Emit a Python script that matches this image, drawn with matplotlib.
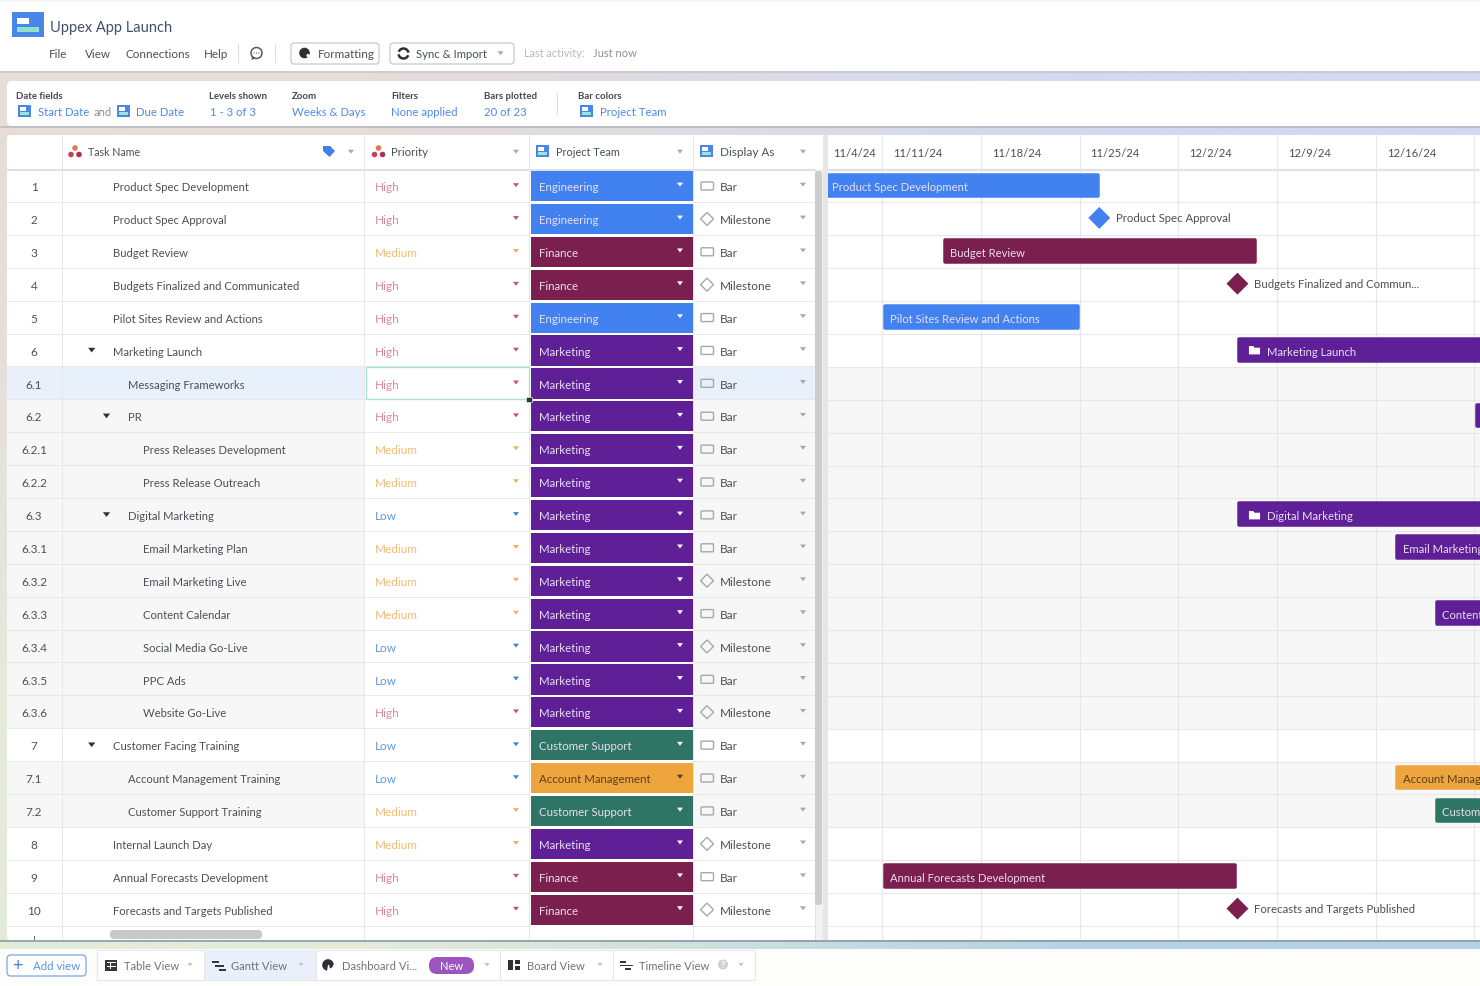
import datetime as dt
import numpy as np
import matplotlib
matplotlib.use("Agg")
import matplotlib.pyplot as plt
import matplotlib.dates as mdates
from matplotlib.patches import FancyBboxPatch, Rectangle, Circle, Arc, Polygon, Wedge
from matplotlib.path import Path
from matplotlib.transforms import ScaledTranslation
from matplotlib.colors import to_rgb

plt.rcParams["font.family"] = ["Lato", "Open Sans", "DejaVu Sans"]

# ---------- data ----------
row_ids = ["1", "2", "3", "4", "5", "6", "6.1", "6.2", "6.2.1", "6.2.2", "6.3", "6.3.1", "6.3.2",
           "6.3.3", "6.3.4", "6.3.5", "6.3.6", "7", "7.1", "7.2", "8", "9", "10"]
task_names = ["Product Spec Development", "Product Spec Approval", "Budget Review",
              "Budgets Finalized and Communicated", "Pilot Sites Review and Actions", "Marketing Launch",
              "Messaging Frameworks", "PR", "Press Releases Development", "Press Release Outreach",
              "Digital Marketing", "Email Marketing Plan", "Email Marketing Live", "Content Calendar",
              "Social Media Go-Live", "PPC Ads", "Website Go-Live", "Customer Facing Training",
              "Account Management Training", "Customer Support Training", "Internal Launch Day",
              "Annual Forecasts Development", "Forecasts and Targets Published"]
priorities = ["High", "High", "Medium", "High", "High", "High", "High", "High", "Medium", "Medium", "Low",
              "Medium", "Medium", "Medium", "Low", "Low", "High", "Low", "Low", "Medium", "Medium", "High", "High"]
teams = ["Engineering", "Engineering", "Finance", "Finance", "Engineering", "Marketing", "Marketing",
         "Marketing", "Marketing", "Marketing", "Marketing", "Marketing", "Marketing", "Marketing",
         "Marketing", "Marketing", "Marketing", "Customer Support", "Account Management", "Customer Support",
         "Marketing", "Finance", "Finance"]
display_as = ["Bar", "Milestone", "Bar", "Milestone", "Bar", "Bar", "Bar", "Bar", "Bar", "Bar", "Bar", "Bar",
              "Milestone", "Bar", "Milestone", "Bar", "Milestone", "Bar", "Bar", "Bar", "Milestone", "Bar",
              "Milestone"]
parents = ["6", "6.2", "6.3", "7"]

week_starts = ["2024-11-04", "2024-11-11", "2024-11-18", "2024-11-25", "2024-12-02", "2024-12-09",
               "2024-12-16", "2024-12-23"]
week_labels = ["11/4/24", "11/11/24", "11/18/24", "11/25/24", "12/2/24", "12/9/24", "12/16/24", ""]

bar_rows = ["1", "3", "5", "6", "6.2", "6.3", "6.3.1", "6.3.3", "7.1", "7.2", "9"]
bar_starts = [2.0, 11.3, 7.05, 32.2, 49.05, 32.2, 43.4, 46.2, 43.4, 46.2, 7.05]
bar_ends = [22.4, 33.6, 21.0, 60.0, 60.0, 60.0, 60.0, 60.0, 60.0, 60.0, 32.15]

milestone_rows = ["2", "4", "10"]
milestone_days = [22.4, 32.2, 32.2]
milestone_labels = ["Product Spec Approval", "Budgets Finalized and Commun...", "Forecasts and Targets Published"]

team_colors = {"Engineering": "#4281f0", "Finance": "#7b1f4e", "Marketing": "#5f1f97",
               "Customer Support": "#2f7566", "Account Management": "#eea53d"}
priority_text = {"High": "#dc8a97", "Medium": "#efbd74", "Low": "#5f97e0"}
priority_arrow = {"High": "#cf4c68", "Medium": "#eeb25c", "Low": "#3f7fe0"}

TXT = "#4b4f57"
BLUE = "#4f8ae6"
FS = 8.5
FS_TASK = 8.15
ROW0, ROWH = 187.0, 32.89
TY = 0.7

fig = plt.figure(figsize=(14.8, 9.87), dpi=100)
ax = fig.add_axes([0, 0, 1, 1], zorder=1)
ax.set_xlim(0, 1480)
ax.set_ylim(987, 0)
ax.axis("off")


def ry(i):
    return ROW0 + ROWH * i


def rect(x0, y0, x1, y1, fc, z=1, ec="none", lw=0, a=None):
    ax.add_patch(Rectangle((x0, y0), x1 - x0, y1 - y0, fc=fc, ec=ec, lw=lw, zorder=z, alpha=a))


def rrect(x0, y0, x1, y1, fc, z=2, ec="none", lw=0, r=3):
    ax.add_patch(FancyBboxPatch((x0 + r, y0 + r), x1 - x0 - 2 * r, y1 - y0 - 2 * r,
                                boxstyle=f"round,pad={r},rounding_size={r}", fc=fc, ec=ec, lw=lw, zorder=z))


def txt(x, y, s, c=TXT, fs=FS, ha="left", w="normal", z=5):
    ax.text(x, y + TY, s, color=c, fontsize=fs, ha=ha, va="center", fontweight=w, zorder=z)


def caret(x, y, c="#a8a8a8", s=3.0):
    ax.add_patch(Polygon([(x - s, y - s * 0.6), (x + s, y - s * 0.6), (x, y + s * 0.7)], fc=c, ec="none", zorder=5))


def field_icon(x, y, s=13):
    rect(x, y, x + s, y + s * 0.95, "#4a86e8", z=4)
    rect(x + s * .17, y + s * .17, x + s * .62, y + s * .45, "white", z=5)
    rect(x + s * .17, y + s * .55, x + s * .83, y + s * .78, "#9fe3d2", z=5)


def dots_icon(x, y):
    ax.add_patch(Circle((x, y - 3.5), 2.8, fc="#e07a50", ec="none", zorder=5))
    ax.add_patch(Circle((x - 4, y + 3), 2.8, fc="#c8405f", ec="none", zorder=5))
    ax.add_patch(Circle((x + 4, y + 3), 2.8, fc="#b02e50", ec="none", zorder=5))


# ---------- background ----------
corner = np.array([[to_rgb("#e6ddd9"), to_rgb("#d2d9f0")], [to_rgb("#e4ebd9"), to_rgb("#b4d1e6")]])
ax.imshow(corner, extent=(0, 1480, 950, 72), aspect="auto", interpolation="bilinear", zorder=0)
ax.set_xlim(0, 1480)
ax.set_ylim(987, 0)
rect(0, 0, 1480, 72, "white")
rect(0, 0, 1480, 3, "#f1f4f1", z=1.1)
rect(0, 950, 1480, 987, "#fdfdfb")
rect(0, 72, 1480, 74, "#c2c2c8", z=1.1, a=.6)
rect(0, 127, 1480, 129, "#a9abb5", z=1.1, a=.6)
rect(0, 941, 1480, 943, "#8a98a0", z=1.1, a=.8)

# ---------- title bar ----------
rect(12, 13, 44, 38, "#4a86e8", z=3)
rect(17, 19, 29, 25, "white", z=4)
rect(17, 28, 39, 33, "#8fe0cc", z=4)
txt(50, 27, "Uppex App Launch", fs=10.5, c="#44506a")
for x, s in zip([49, 85, 125.5, 204], ["File", "View", "Connections", "Help"]):
    txt(x, 54, s, fs=8.4)
rect(238, 45, 238.8, 64, "#dddddd", z=2)
ax.add_patch(Circle((256.5, 54), 5.5, fc="white", ec="#55585d", lw=1.1, zorder=4))
ax.add_patch(Polygon([(252, 57), (256, 59), (251.5, 61)], fc="#55585d", zorder=4))
for dx in (-2.4, 0, 2.4):
    ax.add_patch(Circle((256.5 + dx, 54), .6, fc="#55585d", zorder=5))
rect(275, 45, 275.8, 64, "#dddddd", z=2)
rrect(291, 44, 379, 65, "white", ec="#c0c2c5", lw=.8)
ax.add_patch(Circle((304.5, 54), 5.3, fc="#2c2f36", zorder=4))
ax.add_patch(Circle((308, 56.5), 1.6, fc="white", zorder=5))
txt(317.5, 54, "Formatting", fs=8.4)
rrect(390, 44, 514, 65, "white", ec="#c0c2c5", lw=.8)
ax.add_patch(Arc((403.5, 54.5), 10, 10, theta1=20, theta2=170, ec="#2c2f36", lw=1.8, zorder=4))
ax.add_patch(Arc((403.5, 54.5), 10, 10, theta1=200, theta2=350, ec="#2c2f36", lw=1.8, zorder=4))
txt(416.5, 54, "Sync & Import", fs=8.2)
caret(500.5, 54)
txt(524.5, 53, "Last activity:", fs=7.8, c="#b6b8bb")
txt(593, 53, "Just now", fs=8.0, c="#8e9094")

# ---------- toolbar ----------
rrect(7, 82, 1500, 127, "white", z=2, r=5)
labels = [(16, "Date fields"), (209, "Levels shown"), (292, "Zoom"), (391, "Filters"), (484, "Bars plotted"),
          (578, "Bar colors")]
for x, s in labels:
    txt(x, 96, s, fs=6.9, w="bold", c="#45484e")
values = [(37.5, "Start Date"), (136, "Due Date"), (209.5, "1 - 3 of 3"), (292.5, "Weeks & Days"),
          (391, "None applied"), (484, "20 of 23"), (599.5, "Project Team")]
for x, s in values:
    txt(x, 111.5, s, c=BLUE, fs=8.2)
txt(93.5, 111.5, "and", c="#8b8f94", fs=8.0)
for x in (18, 117, 580):
    field_icon(x, 106)
rect(557, 94, 557.8, 116, "#dddddd", z=3)

# ---------- table ----------
rrect(7, 136, 1500, 941, "white", z=2, r=4)
rect(7, 170, 815, 172, "#dfe1e5", z=4)
for x in (62, 364, 529, 693):
    rect(x, 136, x + .9, 941, "#e6e7e9", z=3.5)
dots_icon(75, 152.5)
txt(88.5, 152, "Task Name", fs=7.7)
ax.add_patch(Polygon([(323, 147), (330, 147), (335, 152), (329.5, 158), (323, 152)], fc="#3f7fe8", zorder=5))
caret(351, 152.5)
dots_icon(378.5, 152.5)
txt(391.5, 152, "Priority", fs=8.2)
caret(516, 152.5)
field_icon(536, 146)
txt(555.5, 152, "Project Team", fs=7.8)
caret(680, 152.5)
field_icon(700, 146)
txt(720, 152, "Display As", fs=8.5)
caret(803, 152.5)

for i, rid in enumerate(row_ids):
    y = ry(i)
    top, bot = y - ROWH / 2, y + ROWH / 2
    child = "." in rid
    shade = "#e8f0fb" if rid == "6.1" else ("#f7f7f7" if child else "white")
    rect(7, top, 364, bot, shade, z=3)
    rect(693, top, 815, bot, shade, z=3)
    for x0, x1 in ((7, 529), (693, 815)):
        rect(x0, bot - .5, x1, bot + .5, "#e7e8ea", z=3.6)
    level = rid.count(".")
    xt = 113.2 + 14.8 * level
    txt(34, y, rid, ha="center", fs=8.5)
    txt(xt, y, task_names[i], fs=FS_TASK)
    if rid in parents:
        caret(xt - 21.5, y - .5, c="#2f3136", s=3.6)
    p = priorities[i]
    txt(375, y, p, c=priority_text[p], fs=8.5)
    caret(516, y - 1, c=priority_arrow[p])
    t = teams[i]
    rect(530.5, top + 1.4, 693, bot - 1.2, team_colors[t], z=4)
    txt(539, y, t, c="#5b4120" if t == "Account Management" else "#e7def0", fs=8.3)
    caret(680, y - 1.5, c="#4d3a1c" if t == "Account Management" else "white")
    d = display_as[i]
    if d == "Bar":
        rrect(701, y - 4, 713.5, y + 4, "none", z=5, ec="#a6a8ab", lw=1.0, r=1)
    else:
        ax.add_patch(Polygon([(707, y - 6.5), (713.5, y), (707, y + 6.5), (700.5, y)], fc="none", ec="#a6a8ab",
                             lw=1.0, zorder=5))
    txt(720, y, d, fs=8.5)
    caret(803, y - 1.5)

# selected cell
sel = ry(row_ids.index("6.1"))
rect(365.5, sel - 16, 528.5, sel + 16, "none", z=6, ec="#a9e3d2", lw=1.0)
rect(526, sel + 13.5, 531.5, sel + 19, "#2c3440", z=7, ec="white", lw=.4)

# scrollbars
rect(815, 170, 828, 941, "#f2f2f2", z=3.4)
rect(815, 170, 815.6, 941, "#e2e2e2", z=3.5)
rect(823, 136, 828, 941, "#e6e6e6", z=3.5)
rrect(815, 172, 822, 906, "#cdcdcd", z=4, r=3)
rrect(110, 931, 262, 940, "#c9c9c9", z=6, r=4)
rect(33.5, 936.5, 34.5, 941, "#6a6d72", z=6)

# ---------- gantt ----------
g_left, g_right, g_top, g_bot = 828, 1480, 136, 941
gx = fig.add_axes([g_left / 1480, 1 - g_bot / 987, (g_right - g_left) / 1480, (g_bot - g_top) / 987], zorder=2)
week_nums = mdates.date2num([dt.date.fromisoformat(d) for d in week_starts])
day0 = week_nums[0]
px_per_day = 14.1
gx.set_xlim(day0 + 3.16, day0 + 3.16 + (g_right - g_left) / px_per_day)
gx.set_ylim((g_bot - ROW0) / ROWH, (g_top - ROW0) / ROWH)
for s in gx.spines.values():
    s.set_visible(False)
gx.tick_params(left=False, bottom=False, labelleft=False, labelbottom=False)
gx.set_facecolor("white")

row_index = {r: i for i, r in enumerate(row_ids)}
for i, rid in enumerate(row_ids):
    if "." in rid:
        gx.axhspan(i - .5, i + .5, fc="#f7f7f7", ec="none", zorder=0)
    gx.axhline(i + .5, color="#e7e8ea", lw=.8, zorder=1)
gx.axhline(-.5, color="#dfe1e5", lw=1.6, zorder=1)
for w in week_nums:
    gx.axvline(w, color="#e6e7e9", lw=.8, zorder=1)

stroke_px = 3.5
inset_days = stroke_px / 2 / px_per_day
bar_h = (25 - stroke_px) / ROWH
bar_y = [row_index[r] - .02 for r in bar_rows]
colors = [team_colors[teams[row_index[r]]] for r in bar_rows]
gx.barh(bar_y, [e - s - 2 * inset_days for s, e in zip(bar_starts, bar_ends)],
        left=[day0 + s + inset_days for s in bar_starts],
        height=bar_h, color=colors, edgecolor=colors, linewidth=stroke_px * .72, joinstyle="round", zorder=3)

folder = Path([(-1, -.7), (-1, .8), (-.2, .8), (0, .5), (1, .5), (1, -.7), (-1, -.7)], closed=True)
for r, s in zip(bar_rows, bar_starts):
    i = row_index[r]
    is_parent = r in parents
    t = teams[i]
    x0 = max(day0 + s, gx.get_xlim()[0])
    off = 29.5 if is_parent else (3.5 if s < 3.16 else 7.5)
    gx.annotate(task_names[i], (x0, i), xytext=(off * .72, -.5), textcoords="offset points", va="center",
                fontsize=8.15, color="#5b4120" if t == "Account Management" else "#e7def0", zorder=5,
                annotation_clip=True, clip_on=True)
    if is_parent and r != "6.2":
        tr = gx.transData + ScaledTranslation(16.5 / 100, 0, fig.dpi_scale_trans)
        gx.plot([x0], [i], marker=folder, ms=8, color="white", mec="none", transform=tr, zorder=5)

ms_y = [row_index[r] - .03 for r in milestone_rows]
ms_c = [team_colors[teams[row_index[r]]] for r in milestone_rows]
gx.scatter([day0 + d for d in milestone_days], ms_y, marker="D", s=125, c=ms_c, linewidths=0, zorder=4)
for r, d, lab in zip(milestone_rows, milestone_days, milestone_labels):
    gx.annotate(lab, (day0 + d, row_index[r] - .03), xytext=(16.5 * .72, 0), textcoords="offset points",
                va="center", fontsize=8.2, color=TXT, zorder=5)

for w, lab in zip(week_nums, week_labels):
    x = max(w, gx.get_xlim()[0])
    off = 5 if w < gx.get_xlim()[0] else 11
    gx.annotate(lab, (x, (153.2 - ROW0) / ROWH), xytext=(off * .72, 0), textcoords="offset points",
                va="center", fontsize=8.1, color=TXT, annotation_clip=True)

# ---------- bottom tabs ----------
rect(97, 951, 755, 981, "white", z=2, ec="#e6e7e9", lw=.8)
rect(204, 951, 316, 981, "#e9f0fb", z=2.2)
for x in (204, 316, 500, 613):
    rect(x, 951, x + .7, 981, "#e4e5e7", z=2.3)
rrect(7, 956, 86, 977, "white", z=3, ec="#86ade9", lw=1.0, r=4)
txt(17.5, 965.5, "+", c="#3f7fe8", fs=13, ha="center")
txt(33, 966, "Add view", c="#5b93e8", fs=8.3)
tabs = [(123.5, "Table View", 190), (231, "Gantt View", 301), (342, "Dashboard Vi...", 487), (527, "Board View", 600),
        (639, "Timeline View", 741)]
for x, s, cx in tabs:
    txt(x, 966, s, c="#6f7378", fs=8.1)
    caret(cx, 965.5, c="#c2c3c5", s=2.6)
rect(105, 961, 117, 971.5, "#34373d", z=4)
rect(106.5, 962.8, 115.5, 964.2, "white", z=5)
rect(110.4, 964, 111.4, 970, "white", z=5)
rect(106.5, 966.6, 115.5, 967.5, "white", z=5)
for dx, yy, ln in ((0, 962, 7), (3, 966, 9), (7, 970, 7)):
    rect(212 + dx, yy, 212 + dx + ln, yy + 1.5, "#34373d", z=5)
ax.add_patch(Wedge((328, 966), 5.8, 100, 350, fc="#2c2f36", ec="none", zorder=4))
ax.add_patch(Wedge((329, 965), 4.5, 0, 80, fc="#2c2f36", ec="none", zorder=4))
rrect(429, 958, 474, 975, "#9a55bf", z=4, r=8)
txt(451.5, 965.5, "New", c="white", fs=8, ha="center")
rect(508, 960.5, 513, 971, "#2c2f36", z=4)
rect(514.5, 960.5, 519.5, 965, "#2c2f36", z=4)
rect(514.5, 966.5, 519.5, 971, "#2c2f36", z=4)
for dx, yy, ln in ((0, 962, 6), (0, 965.5, 13), (5, 969, 6)):
    rect(620 + dx, yy, 620 + dx + ln, yy + 1.5, "#34373d", z=5)
ax.add_patch(Circle((723, 965.5), 5, fc="#cfd0d2", zorder=4))
txt(723, 965, "?", c="white", fs=6.5, ha="center", w="bold")

fig.savefig("out.png", dpi=100)
